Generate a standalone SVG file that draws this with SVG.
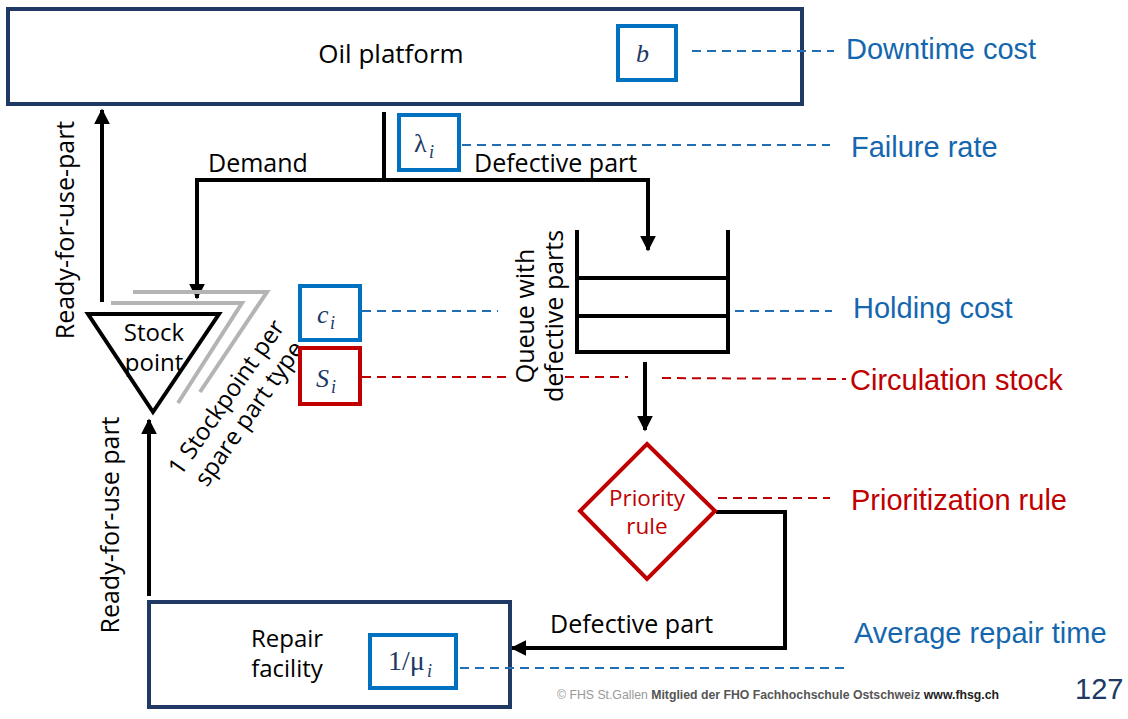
<svg xmlns="http://www.w3.org/2000/svg" width="1128" height="719" viewBox="0 0 1128 719">
<defs>
<marker id="ah" viewBox="0 0 10 10" refX="9" refY="5" markerWidth="4" markerHeight="4" orient="auto" markerUnits="strokeWidth"><path d="M0,0 L10,5 L0,10 z" fill="#000"/></marker>
<style>
.box{fill:#fff;stroke:#203864;stroke-width:4}
.pb{fill:#fff;stroke:#0070C0;stroke-width:4}
.pr{fill:#fff;stroke:#C00000;stroke-width:4}
.ln{fill:none;stroke:#000;stroke-width:4}
.arr{fill:none;stroke:#000;stroke-width:4;marker-end:url(#ah)}
.gr{fill:none;stroke:#B4B4B4;stroke-width:4}
.db{fill:none;stroke:#1F6FB5;stroke-width:2;stroke-dasharray:9,6}
.dr{fill:none;stroke:#C00000;stroke-width:2;stroke-dasharray:9,6}
.t{font-family:"Open Sans","Noto Sans",sans-serif;font-size:25px;fill:#000}
.t24{font-size:24px}
.m{font-family:"Liberation Serif",serif;font-style:italic;font-size:26px;fill:#203864}
.mu{font-family:"Liberation Serif",serif;font-style:normal;font-size:26px;fill:#203864}
.sub{font-family:"Liberation Serif",serif;font-style:italic;font-size:18px;fill:#203864}
.lb{font-family:"Liberation Sans",Arial,sans-serif;font-size:29px;fill:#1467AE}
.lr{font-family:"Liberation Sans",Arial,sans-serif;font-size:29px;fill:#C00000}
</style>
</defs>
<rect width="1128" height="719" fill="#fff"/>

<g id="connectors">
<line class="ln" x1="384" y1="112" x2="384" y2="180"/>
<polyline class="ln" points="197,232 197,180 648,180 648,232"/>
<line class="arr" x1="197" y1="180" x2="197" y2="298"/>
<line class="arr" x1="648" y1="200" x2="648" y2="250"/>
<line class="arr" x1="102" y1="302" x2="102" y2="110"/>
<line class="arr" x1="149" y1="596" x2="149" y2="420"/>
<line class="arr" x1="645" y1="362" x2="645" y2="430"/>
<polyline class="ln" points="716,512 785,512 785,648 560,648"/>
<line class="arr" x1="600" y1="648" x2="512" y2="648"/>
<text class="t" x="208" y="172">Demand</text>
<text class="t" x="474" y="172">Defective part</text>
<text class="t" x="550" y="633">Defective part</text>
<text class="t" transform="translate(74,230) rotate(-90)" text-anchor="middle">Ready-for-use-part</text>
<text class="t" transform="translate(119,525) rotate(-90)" text-anchor="middle">Ready-for-use part</text>
</g>

<g id="oil-platform">
<rect class="box" x="8" y="9" width="794" height="95"/>
<text class="t" x="391" y="63" text-anchor="middle" style="font-size:26px">Oil platform</text>
</g>
<g id="param-b">
<rect class="pb" x="618" y="26" width="58" height="54"/>
<text class="m" x="636" y="62">b</text>
</g>
<g id="param-lambda">
<rect class="pb" x="399" y="115" width="60" height="55"/>
<text class="mu" x="414" y="152">λ</text>
<text class="sub" x="429" y="158">i</text>
</g>

<g id="stock-point">
<polyline class="gr" points="133,292 267,292 200,392"/>
<polyline class="gr" points="111,303 242,303 178,403"/>
<polygon class="ln" points="88,314 219,314 153,412"/>
<text class="t t24" x="154" y="341" text-anchor="middle">Stock</text>
<text class="t t24" x="154" y="371" text-anchor="middle">point</text>
<text class="t t24" transform="translate(237,405) rotate(-55)" text-anchor="middle"><tspan x="0" y="-5">1 Stockpoint per</tspan><tspan x="0" y="23">spare part type</tspan></text>
</g>

<g id="param-c">
<rect class="pb" x="300" y="286" width="60" height="54"/>
<text class="m" x="317" y="323">c</text>
<text class="sub" x="330" y="329">i</text>
</g>
<g id="param-s">
<rect class="pr" x="300" y="348" width="60" height="56"/>
<text class="m" x="316" y="387">S</text>
<text class="sub" x="331" y="393">i</text>
</g>

<g id="queue">
<polyline class="ln" points="577,230 577,352 728,352 728,230"/>
<line class="ln" x1="577" y1="278" x2="728" y2="278"/>
<line class="ln" x1="577" y1="316" x2="728" y2="316"/>
<text class="t" transform="translate(548,316) rotate(-90)" text-anchor="middle"><tspan x="0" y="-14">Queue with</tspan><tspan x="0" y="15">defective parts</tspan></text>
</g>

<g id="priority-rule">
<polygon class="pr" points="647,444 715,511 647,579 580,511"/>
<text class="t" x="647" y="506" text-anchor="middle" style="font-size:22.5px;fill:#C00000">Priority</text>
<text class="t" x="647" y="534" text-anchor="middle" style="font-size:22.5px;fill:#C00000">rule</text>
</g>

<g id="repair-facility">
<rect class="box" x="149" y="602" width="361" height="105"/>
<text class="t t24" x="287" y="647" text-anchor="middle">Repair</text>
<text class="t t24" x="287" y="677" text-anchor="middle">facility</text>
</g>
<g id="param-mu">
<rect class="pb" x="370" y="635" width="86" height="53"/>
<text class="mu" x="388" y="670" style="font-size:28px">1/μ</text>
<text class="sub" x="427" y="677">i</text>
</g>

<g id="dashes">
<line class="db" x1="692" y1="51" x2="834" y2="51"/>
<line class="db" x1="462" y1="145" x2="830" y2="145"/>
<line class="db" x1="362" y1="311" x2="498" y2="311"/>
<line class="db" x1="735" y1="311" x2="832" y2="311"/>
<line class="dr" x1="362" y1="377" x2="508" y2="377"/>
<line class="dr" x1="565" y1="377" x2="628" y2="377"/>
<line class="dr" x1="662" y1="378" x2="846" y2="379"/>
<line class="dr" x1="718" y1="498" x2="830" y2="498"/>
<line class="db" x1="460" y1="668" x2="846" y2="668"/>
</g>

<g id="labels">
<text class="lb" x="846" y="59">Downtime cost</text>
<text class="lb" x="851" y="157">Failure rate</text>
<text class="lb" x="853" y="318">Holding cost</text>
<text class="lr" x="850" y="390">Circulation stock</text>
<text class="lr" x="851" y="510">Prioritization rule</text>
<text class="lb" x="854" y="643">Average repair time</text>
</g>

<g id="footer">
<text x="557" y="699" font-family="'Liberation Sans',Arial,sans-serif" font-size="12" fill="#999" textLength="442" lengthAdjust="spacingAndGlyphs">© FHS St.Gallen <tspan fill="#555" font-weight="bold">Mitglied der FHO Fachhochschule Ostschweiz</tspan> <tspan fill="#222" font-weight="bold">www.fhsg.ch</tspan></text>
<text x="1075" y="699" font-family="'Liberation Sans',Arial,sans-serif" font-size="29" fill="#203864">127</text>
</g>
</svg>
